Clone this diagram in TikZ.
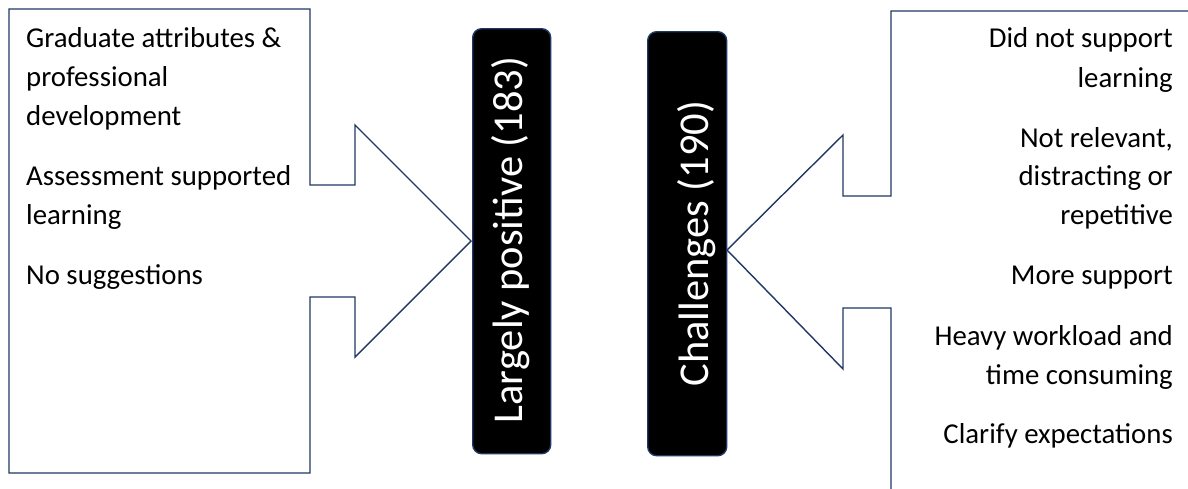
\documentclass[tikz,border=0pt]{standalone}
\usepackage{fontspec}
\setmainfont{Carlito}
\definecolor{navy}{HTML}{1F3864}
\tikzset{
  callout/.style={draw=navy, line width=1.4pt, fill=white},
  bar/.style={draw=navy, line width=1.4pt, fill=black, rounded corners=9pt},
  item/.style={inner sep=0pt, font=\fontsize{28.8}{39}\selectfont, text=black},
  vlabel/.style={inner sep=0pt, rotate=90, anchor=base, text=white, font=\fontsize{42.5}{48}\selectfont}
}
\begin{document}
\begin{tikzpicture}[x=1pt,y=-1pt]
\useasboundingbox (0,0) rectangle (1188,488);
\clip (0,0) rectangle (1188,488);
\fill[white] (0,0) rectangle (1188,488);
% left callout
\draw[callout] (9,9) -- (310,9) -- (310,185) -- (355,185) -- (355,125) -- (471,241)
  -- (355,357) -- (355,297) -- (310,297) -- (310,473) -- (9,473) -- cycle;
% right callout
\draw[callout] (1200,11) -- (891,11) -- (891,196) -- (843,196) -- (843,135) -- (727,250)
  -- (843,369) -- (843,308) -- (891,308) -- (891,500);
% bars
\node[bar, minimum width=78pt, minimum height=425pt, anchor=north west, inner sep=0pt] (posbar) at (472,28) {};
\node[bar, minimum width=79pt, minimum height=424pt, anchor=north west, inner sep=0pt] (chbar) at (647,31) {};
\node[vlabel] (poslab) at (522,240) {Largely positive (183)};
\node[vlabel] (chlab) at (708,243.5) {Challenges (190)};
% left texts
\node[item, anchor=base west] (l1) at (26,47) {Graduate attributes \&};
\node[item, anchor=base west] (l2) at (26,86) {professional};
\node[item, anchor=base west] (l3) at (26,125) {development};
\node[item, anchor=base west] (l4) at (26,185) {Assessment supported};
\node[item, anchor=base west] (l5) at (26,224) {learning};
\node[item, anchor=base west] (l6) at (26,284) {No suggestions};
% right texts
\node[item, anchor=base east] (r1) at (1173,47) {Did not support};
\node[item, anchor=base east] (r2) at (1173,87) {learning};
\node[item, anchor=base east] (r3) at (1173,147) {Not relevant,};
\node[item, anchor=base east] (r4) at (1173,185) {distracting or};
\node[item, anchor=base east] (r5) at (1173,224) {repetitive};
\node[item, anchor=base east] (r6) at (1173,284) {More support};
\node[item, anchor=base east] (r7) at (1173,345) {Heavy workload and};
\node[item, anchor=base east] (r8) at (1173,384) {time consuming};
\node[item, anchor=base east] (r9) at (1173,443) {Clarify expectations};
\end{tikzpicture}
\end{document}
